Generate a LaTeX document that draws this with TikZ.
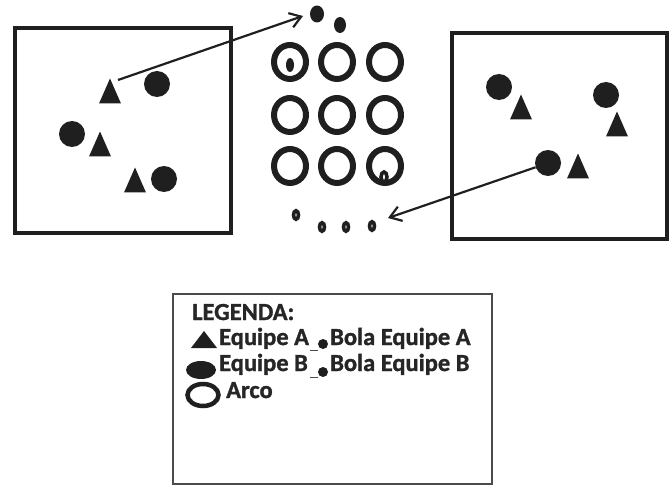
\documentclass[tikz,border=0pt]{standalone}
\usepackage{fontspec}
\setmainfont{Carlito}[FakeBold=1.2]
\usetikzlibrary{shapes.geometric,arrows.meta}
\begin{document}
\begin{tikzpicture}[x=1pt,y=-1pt,
  field/.style={draw=black!88,line width=4pt},
  player/.style={circle,fill=black!88,minimum size=26pt,inner sep=0pt},
  ring/.style={ellipse,draw=black!88,line width=6pt,minimum width=32pt,minimum height=34pt,inner sep=0pt},
  ballring/.style={ellipse,draw=black!88,fill=white,line width=3.6pt,minimum width=5pt,minimum height=8.5pt,inner sep=0pt},
  ball/.style={ellipse,fill=black!88,inner sep=0pt},
  arr/.style={draw=black!88,line width=2.2pt,-{Straight Barb[length=11pt,width=15pt,line width=2.2pt]}},
  tri/.pic={\fill[black!88] (-11,12.5) -- (0,-12.5) -- (11,12.5) -- cycle;},
  lbl/.style={anchor=base west,inner sep=0pt,font=\fontsize{24.5}{28}\selectfont\bfseries,text=black!85},
  legendbox/.style={draw=black!70,line width=1.6pt}
]
\useasboundingbox (0,0) rectangle (669,486);
% left field
\draw[field] (15,28) rectangle (231,233);
\pic at (110,91) {tri};
\pic at (100,144) {tri};
\pic at (135,180) {tri};
\node[player] (bl1) at (157,84) {};
\node[player] (bl2) at (72,134) {};
\node[player] (bl3) at (164,179) {};
\coordinate (a1s) at (118,80);
% right field
\draw[field] (452,33) rectangle (667,239);
\node[player] (br1) at (499,87) {};
\node[player] (br2) at (606,95) {};
\node[player] (br3) at (548,163) {};
\pic at (521,107) {tri};
\pic at (617,124) {tri};
\pic at (578,166) {tri};
% rings grid
\foreach \c/\x in {1/290,2/337,3/385}{
  \foreach \r/\y in {1/62,2/115,3/166}{
    \node[ring] (r\c\r) at (\x,\y) {};
  }
}
% balls
\node[ball,minimum width=14pt,minimum height=17pt] (t1) at (317,14) {};
\node[ball,minimum width=12pt,minimum height=16pt] (t2) at (340,25) {};
\node[ball,minimum width=8pt,minimum height=14pt] (t3) at (290,65) {};
\node[ballring,minimum width=6pt,minimum height=10pt] (s0) at (384,177) {};
\node[ballring] (s1) at (296,215) {};
\node[ballring] (s2) at (322,227) {};
\node[ballring] (s3) at (346,227) {};
\node[ballring] (s4) at (372,226) {};
% arrows
\coordinate (tip1) at (303,16);
\coordinate (tip2) at (388,218);
\draw[arr] (a1s) -- (tip1);
\draw[arr] (br3) -- (tip2);
% legend
\draw[legendbox] (173,294) rectangle (492,484);
\node[lbl] (lg) at (192,320) {LEGENDA:};
\fill[black!88] (191,348) -- (204,331) -- (217,348) -- cycle;
\node[lbl] (ea) at (219,345) {Equipe A};
\draw[black!70,line width=1pt] (310,350) -- (318,350);
\node[lbl] (ba) at (330,345) {Bola Equipe A};
\node[ball,minimum size=10pt,circle] (da) at (323,344) {};
\node[ball,minimum width=30pt,minimum height=18pt] (eb) at (201,370) {};
\node[lbl] (tb) at (219,371) {Equipe B};
\draw[black!70,line width=1pt] (310,377) -- (318,377);
\node[lbl] (bb) at (330,371) {Bola Equipe B};
\node[ball,minimum size=10pt,circle] (db) at (323,372) {};
\node[ellipse,draw=black!88,line width=4.5pt,minimum width=31pt,minimum height=22pt,inner sep=0pt] (ar) at (203,395) {};
\node[lbl] (ta) at (226,398) {Arco};
\end{tikzpicture}
\end{document}
